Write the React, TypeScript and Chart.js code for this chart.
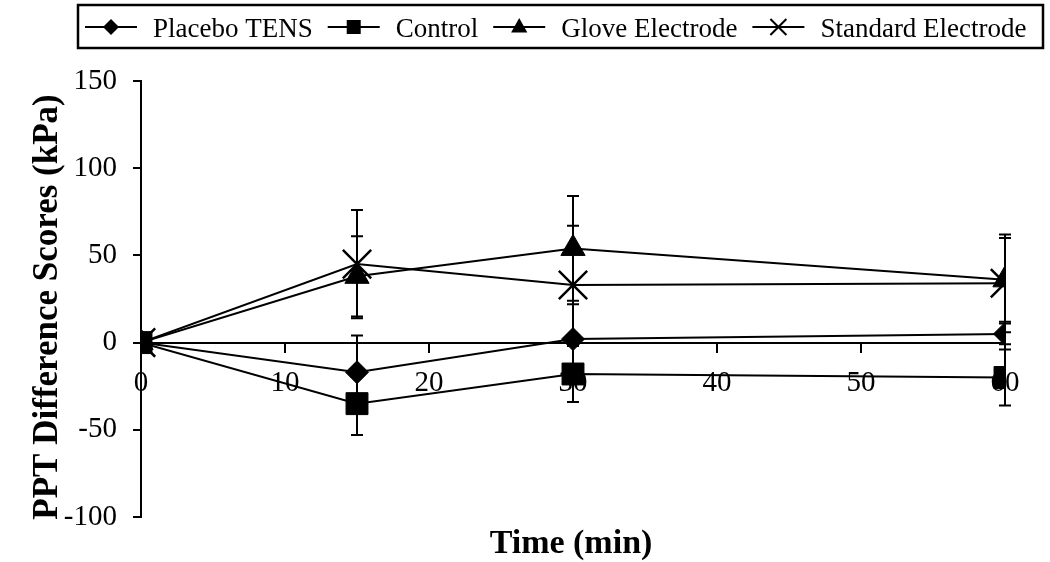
import React, { useEffect, useRef } from 'react';
import { Chart, registerables } from 'chart.js';

Chart.register(...registerables);

const timePoints = [0, 15, 30, 60];
const seriesNames = ['Placebo TENS', 'Control', 'Glove Electrode', 'Standard Electrode'];
const placeboMeans = [0, -17, 2, 5];
const placeboErrors = [0, 21, 20, 6];
const controlMeans = [0, -35, -18, -20];
const controlErrors = [0, 18, 16, 16];
const gloveMeans = [0, 38, 54, 36];
const gloveErrors = [0, 23, 30, 24];
const standardMeans = [0, 45, 33, 34];
const standardErrors = [0, 31, 34, 28];
const xTickValues = [0, 10, 20, 30, 40, 50, 60];
const yTickValues = [-100, -50, 0, 50, 100, 150];
const xAxisTitle = 'Time (min)';
const yAxisTitle = 'PPT Difference Scores (kPa)';

const SERIF = '"Liberation Serif", "Times New Roman", serif';

function drawMarker(ctx: CanvasRenderingContext2D, kind: string, x: number, y: number, s: number) {
  ctx.beginPath();
  if (kind === 'diamond') {
    ctx.moveTo(x, y - s);
    ctx.lineTo(x + s, y);
    ctx.lineTo(x, y + s);
    ctx.lineTo(x - s, y);
    ctx.closePath();
    ctx.fill();
  } else if (kind === 'square') {
    ctx.rect(x - s, y - s, 2 * s, 2 * s);
    ctx.fill();
  } else if (kind === 'triangle') {
    ctx.moveTo(x, y - s);
    ctx.lineTo(x + s * 0.9, y + s * 0.6);
    ctx.lineTo(x - s * 0.9, y + s * 0.6);
    ctx.closePath();
    ctx.fill();
  } else {
    ctx.moveTo(x - s, y - s);
    ctx.lineTo(x + s, y + s);
    ctx.moveTo(x + s, y - s);
    ctx.lineTo(x - s, y + s);
    ctx.stroke();
  }
}

const errorBarPlugin = {
  id: 'errorBars',
  beforeDatasetsDraw(chart: any) {
    const ctx = chart.ctx;
    const xs = chart.scales.x;
    const ys = chart.scales.y;
    ctx.save();
    ctx.strokeStyle = '#000';
    ctx.lineWidth = 2;
    chart.data.datasets.forEach((ds: any) => {
      const errs: number[] = ds.errors || [];
      ds.data.forEach((pt: any, j: number) => {
        const e = errs[j];
        if (!e) return;
        const px = xs.getPixelForValue(pt.x);
        const top = ys.getPixelForValue(pt.y + e);
        const bot = ys.getPixelForValue(pt.y - e);
        ctx.beginPath();
        ctx.moveTo(px, top);
        ctx.lineTo(px, bot);
        ctx.moveTo(px - 6, top);
        ctx.lineTo(px + 6, top);
        ctx.moveTo(px - 6, bot);
        ctx.lineTo(px + 6, bot);
        ctx.stroke();
      });
    });
    ctx.restore();
  },
};

const markerKinds = ['diamond', 'square', 'triangle', 'cross'];
const legendMarkerSizes = [8, 7, 9, 8];

const decorPlugin = {
  id: 'decor',
  afterDraw(chart: any) {
    const ctx: CanvasRenderingContext2D = chart.ctx;
    ctx.save();
    // Legend box
    ctx.strokeStyle = '#000';
    ctx.lineWidth = 2.5;
    ctx.strokeRect(78, 5, 965, 43);
    ctx.font = `27px ${SERIF}`;
    ctx.fillStyle = '#000';
    ctx.textBaseline = 'alphabetic';
    ctx.textAlign = 'left';
    let cx = 85;
    const cy = 27;
    seriesNames.forEach((name, i) => {
      ctx.lineWidth = 2;
      ctx.beginPath();
      ctx.moveTo(cx, cy);
      ctx.lineTo(cx + 52, cy);
      ctx.stroke();
      drawMarker(ctx, markerKinds[i], cx + 26, cy, legendMarkerSizes[i]);
      cx += 52 + 16;
      ctx.fillText(name, cx, 37);
      cx += ctx.measureText(name).width + 15;
    });
    // Axis titles
    ctx.font = `bold 34px ${SERIF}`;
    ctx.textAlign = 'center';
    ctx.fillText(xAxisTitle, 571, 553);
    ctx.font = `bold 35px ${SERIF}`;
    ctx.translate(57, 307);
    ctx.rotate(-Math.PI / 2);
    ctx.fillText(yAxisTitle, 0, 0);
    ctx.restore();
  },
};

function toPoints(means: number[]) {
  return timePoints.map((t, i) => ({ x: t, y: means[i] }));
}

export default function App() {
  const canvasRef = useRef<HTMLCanvasElement | null>(null);

  useEffect(() => {
    if (!canvasRef.current) return;
    const common = {
      borderColor: '#000',
      backgroundColor: '#000',
      pointBackgroundColor: '#000',
      pointBorderColor: '#000',
      borderWidth: 2,
      tension: 0,
      showLine: true,
      fill: false,
    };
    const chart = new Chart(canvasRef.current, {
      type: 'scatter',
      data: {
        datasets: [
          { ...common, label: seriesNames[0], data: toPoints(placeboMeans), errors: placeboErrors, pointStyle: 'rectRot', pointRadius: 11.5, pointBorderWidth: 1, order: 2 } as any,
          { ...common, label: seriesNames[1], data: toPoints(controlMeans), errors: controlErrors, pointStyle: 'rect', pointRadius: 15.5, pointBorderWidth: 1, order: 0 } as any,
          { ...common, label: seriesNames[2], data: toPoints(gloveMeans), errors: gloveErrors, pointStyle: 'triangle', pointRadius: 14, pointBorderWidth: 1, order: 1 } as any,
          { ...common, label: seriesNames[3], data: toPoints(standardMeans), errors: standardErrors, pointStyle: 'crossRot', pointRadius: 20, pointBorderWidth: 2.5, order: 3 } as any,
        ],
      },
      options: {
        responsive: false,
        animation: false,
        devicePixelRatio: 1,
        layout: { padding: { left: 0, right: 45, top: 81, bottom: 45 } },
        plugins: {
          legend: { display: false },
          tooltip: { enabled: false },
        },
        scales: {
          x: {
            type: 'linear',
            position: { y: 0 } as any,
            min: 0,
            max: 60,
            afterBuildTicks: (scale: any) => {
              scale.ticks = xTickValues.map((v) => ({ value: v }));
            },
            ticks: {
              color: '#000',
              font: { family: SERIF, size: 29 },
              padding: 14,
              maxRotation: 0,
              autoSkip: false,
            },
            grid: { drawOnChartArea: false, drawTicks: true, tickLength: 9, color: '#000', lineWidth: 2 },
            border: { display: true, color: '#000', width: 2 },
          },
          y: {
            type: 'linear',
            min: -100,
            max: 150,
            afterBuildTicks: (scale: any) => {
              scale.ticks = yTickValues.map((v) => ({ value: v }));
            },
            afterFit: (scale: any) => {
              scale.width = 141;
            },
            ticks: {
              color: '#000',
              font: { family: SERIF, size: 29 },
              padding: 16,
              autoSkip: false,
            },
            grid: { drawOnChartArea: false, drawTicks: true, tickLength: 8, color: '#000', lineWidth: 2 },
            border: { display: true, color: '#000', width: 2 },
          },
        },
      } as any,
      plugins: [errorBarPlugin, decorPlugin],
    });
    return () => chart.destroy();
  }, []);

  return (
    <div style={{ position: 'absolute', left: 0, top: 0, width: 1050, height: 562, background: '#fff' }}>
      <canvas ref={canvasRef} width={1050} height={562} style={{ display: 'block' }} />
    </div>
  );
}
